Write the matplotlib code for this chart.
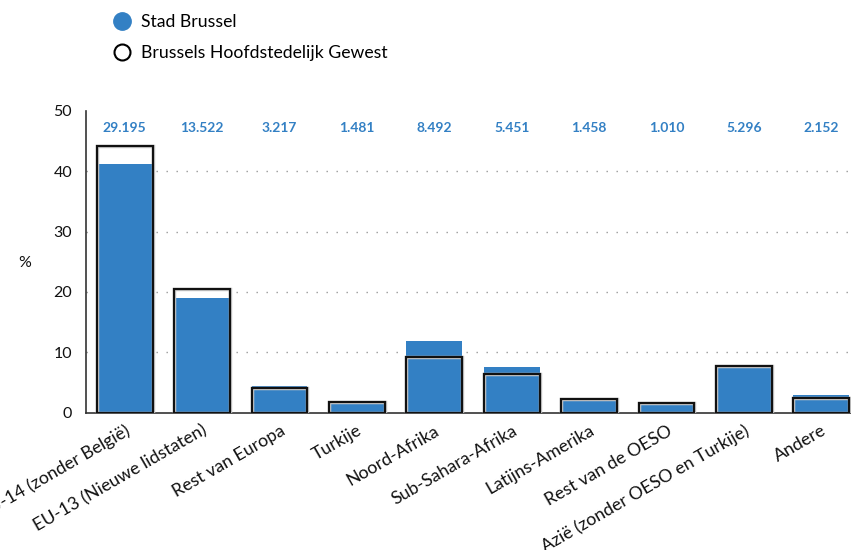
import matplotlib
matplotlib.use("Agg")
import matplotlib.pyplot as plt
import matplotlib.transforms as mtransforms
from matplotlib.lines import Line2D
import numpy as np

plt.rcParams['font.family'] = ['Lato', 'DejaVu Sans']

categories = ["EU-14 (zonder België)", "EU-13 (Nieuwe lidstaten)", "Rest van Europa",
              "Turkije", "Noord-Afrika", "Sub-Sahara-Afrika", "Latijns-Amerika",
              "Rest van de OESO", "Azië (zonder OESO en Turkije)", "Andere"]
stad_brussel = [41.2, 19.0, 4.4, 1.6, 11.9, 7.6, 2.0, 1.3, 7.45, 2.9]
gewest = [44.2, 20.5, 4.1, 1.85, 9.2, 6.4, 2.3, 1.65, 7.8, 2.45]
counts = ["29.195", "13.522", "3.217", "1.481", "8.492", "5.451", "1.458", "1.010", "5.296", "2.152"]
yticks = [0, 10, 20, 30, 40, 50]

BLUE = "#3380C4"

fig = plt.figure(figsize=(8.51, 5.5), dpi=100)
ax = fig.add_axes([86/851, (550-412.7)/550, 774/851, 302/550])

x = np.arange(len(categories))
w = 0.72

ax.bar(x, gewest, width=w, color="white", edgecolor="none", zorder=2)
ax.bar(x, stad_brussel, width=w, color=BLUE, edgecolor="none", zorder=3)
ax.bar(x, gewest, width=w, facecolor="none", edgecolor="#cccccc", linewidth=2.5, zorder=4)
ax.bar(x, gewest, width=w, facecolor="none", edgecolor="#111111", linewidth=1.6, zorder=5)

for xi, c in zip(x, counts):
    ax.text(xi, 47.1, c, ha="center", va="center", color=BLUE, fontsize=10,
            fontweight="bold", zorder=6)

ax.set_xlim(-0.5, 9.5)
ax.set_ylim(0, 50)
ax.set_yticks(yticks)
ax.set_yticklabels([str(v) for v in yticks], fontsize=11.5, color="#111111")
for yv in yticks[1:-1]:
    ax.axhline(yv, color="#999999", linewidth=1.0, linestyle=(0, (1, 6.2)), zorder=1)

ax.set_xticks(x)
ax.set_xticklabels(categories, rotation=30, ha="right", va="top",
                   rotation_mode="anchor", fontsize=12.8, color="#111111")
offset = mtransforms.ScaledTranslation(4/100, 0, fig.dpi_scale_trans)
for lab in ax.get_xticklabels():
    lab.set_transform(lab.get_transform() + offset)

ax.tick_params(axis="both", length=0)
ax.tick_params(axis="y", pad=10)
ax.tick_params(axis="x", pad=7)

for s in ["top", "right"]:
    ax.spines[s].set_visible(False)
for s in ["left", "bottom"]:
    ax.spines[s].set_color("#333333")
    ax.spines[s].set_linewidth(1.2)

fig.text(25/851, 1 - 263/550, "%", fontsize=11.5, ha="center", va="center", color="#111111")

handles = [
    Line2D([], [], linestyle="none", marker="o", markersize=12.5, markerfacecolor=BLUE,
           markeredgecolor=BLUE),
    Line2D([], [], linestyle="none", marker="o", markersize=11.5, markerfacecolor="white",
           markeredgecolor="black", markeredgewidth=1.5),
]
fig.legend(handles, ["Stad Brussel", "Brussels Hoofdstedelijk Gewest"],
           loc="upper left", bbox_to_anchor=(111/851, 1 - 14/550), frameon=False,
           fontsize=12.7, handletextpad=0.5, labelspacing=0.85, handlelength=1.2,
           borderaxespad=0, borderpad=0)

fig.savefig("out.png", dpi=100)
